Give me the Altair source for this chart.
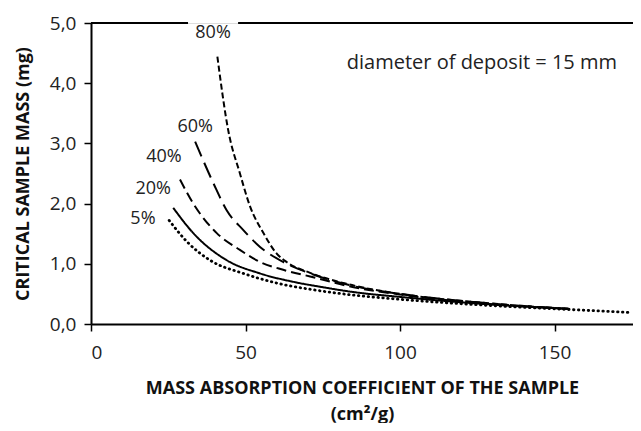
import altair as alt
import pandas as pd

FONT = "Open Sans"

# Curves: mass absorption coefficient (cm2/g) vs critical sample mass (mg)
x5 = [25.3, 31.0, 38.5, 49.3, 60.1, 73.0, 85.0, 100.0, 125.0, 155.0, 175.0]
y5 = [1.72, 1.37, 1.06, 0.84, 0.68, 0.56, 0.48, 0.41, 0.32, 0.24, 0.19]

x20 = [26.6, 33.1, 43.9, 54.7, 65.5, 74.0, 85.0, 100.0, 125.0, 155.0]
y20 = [1.93, 1.51, 1.06, 0.84, 0.70, 0.62, 0.53, 0.45, 0.34, 0.25]

x40 = [28.8, 33.1, 40.7, 48.2, 54.7, 62.2, 70.9, 85.0, 100.0, 125.0, 155.0]
y40 = [2.40, 2.00, 1.51, 1.23, 1.03, 0.90, 0.79, 0.61, 0.49, 0.35, 0.25]

x60 = [33.7, 39.6, 43.9, 49.3, 54.7, 62.2, 70.9, 85.0, 100.0, 125.0, 155.0]
y60 = [3.03, 2.34, 1.89, 1.56, 1.28, 1.03, 0.84, 0.63, 0.50, 0.36, 0.25]

x80 = [40.9, 44.4, 48.2, 51.5, 55.8, 60.1, 63.3, 70.9, 85.0, 100.0, 125.0, 155.0]
y80 = [4.44, 3.22, 2.50, 1.95, 1.51, 1.17, 1.03, 0.85, 0.64, 0.50, 0.36, 0.25]

series_names = ["5%", "20%", "40%", "60%", "80%"]
series_x = [x5, x20, x40, x60, x80]
series_y = [y5, y20, y40, y60, y80]
dashes = {"5%": [0.5, 4.4], "20%": [1, 0], "40%": [10, 5], "60%": [16, 7], "80%": [6, 3]}

# curve labels
label_text = ["80%", "60%", "40%", "20%", "5%"]
label_x = [39.5, 33.7, 23.6, 20.1, 16.8]
label_y = [4.83, 3.28, 2.78, 2.25, 1.75]

X_MAX = 175.4
Y_MAX = 5.0

xs = alt.Scale(domain=[0, X_MAX], nice=False, zero=False)
ys = alt.Scale(domain=[0, Y_MAX], nice=False)

layers = []
for name, xv, yv in zip(series_names, series_x, series_y):
    df = pd.DataFrame({"x": xv, "y": yv})
    dotted = name == "5%"
    lay = alt.Chart(df).mark_line(
        color="black", strokeWidth=2.8 if dotted else 2, strokeDash=dashes[name],
        interpolate="monotone", strokeCap="round" if dotted else "butt",
        clip=True,
    ).encode(
        x=alt.X("x:Q", scale=xs, axis=alt.Axis(
            values=[0, 50, 100, 150], title=["MASS ABSORPTION COEFFICIENT OF THE SAMPLE", "(cm²/g)"],
            labelFont=FONT, labelFontSize=19, labelColor="#222", labelPadding=12,
            titleFont=FONT, titleFontSize=18, titleFontWeight="bold", titleColor="#111",
            titlePadding=17, titleLineHeight=26,
            domainColor="black", domainWidth=2, tickColor="black", tickWidth=1.5, tickSize=7,
            grid=False)),
        y=alt.Y("y:Q", scale=ys, axis=alt.Axis(
            values=[0, 1, 2, 3, 4, 5],
            labelExpr="replace(format(datum.value, '.1f'), '.', ',')",
            title="CRITICAL SAMPLE MASS (mg)",
            labelFont=FONT, labelFontSize=19, labelColor="#222", labelPadding=8,
            titleFont=FONT, titleFontSize=18, titleFontWeight="bold", titleColor="#111",
            titlePadding=17,
            domainColor="black", domainWidth=2, tickColor="black", tickWidth=1.5, tickSize=7,
            grid=False)),
    )
    layers.append(lay)

# top border line, broken behind the 80% label
border = pd.DataFrame({"x": [0.0, 47.6], "x2": [31.4, X_MAX], "y": [Y_MAX, Y_MAX]})
top = alt.Chart(border).mark_rule(color="black", strokeWidth=2).encode(
    x=alt.X("x:Q", scale=xs), x2="x2:Q", y=alt.Y("y:Q", scale=ys))

labels = pd.DataFrame({"t": label_text, "x": label_x, "y": label_y})
lab = alt.Chart(labels).mark_text(font=FONT, fontSize=18, color="#222").encode(
    x=alt.X("x:Q", scale=xs), y=alt.Y("y:Q", scale=ys), text="t:N")

note = pd.DataFrame({"t": ["diameter of deposit = 15 mm"], "x": [126.5], "y": [4.34]})
nt = alt.Chart(note).mark_text(font=FONT, fontSize=20, color="#222").encode(
    x=alt.X("x:Q", scale=xs), y=alt.Y("y:Q", scale=ys), text="t:N")

chart = alt.layer(*layers, top, lab, nt).properties(
    width=542, height=301,
    autosize=alt.AutoSizeParams(type="none"),
    padding={"left": 83, "top": 15, "right": 0, "bottom": 99},
).configure_view(stroke=None).configure(background="white")

chart.save("out.html", embed_options={"renderer": "svg", "actions": False})
